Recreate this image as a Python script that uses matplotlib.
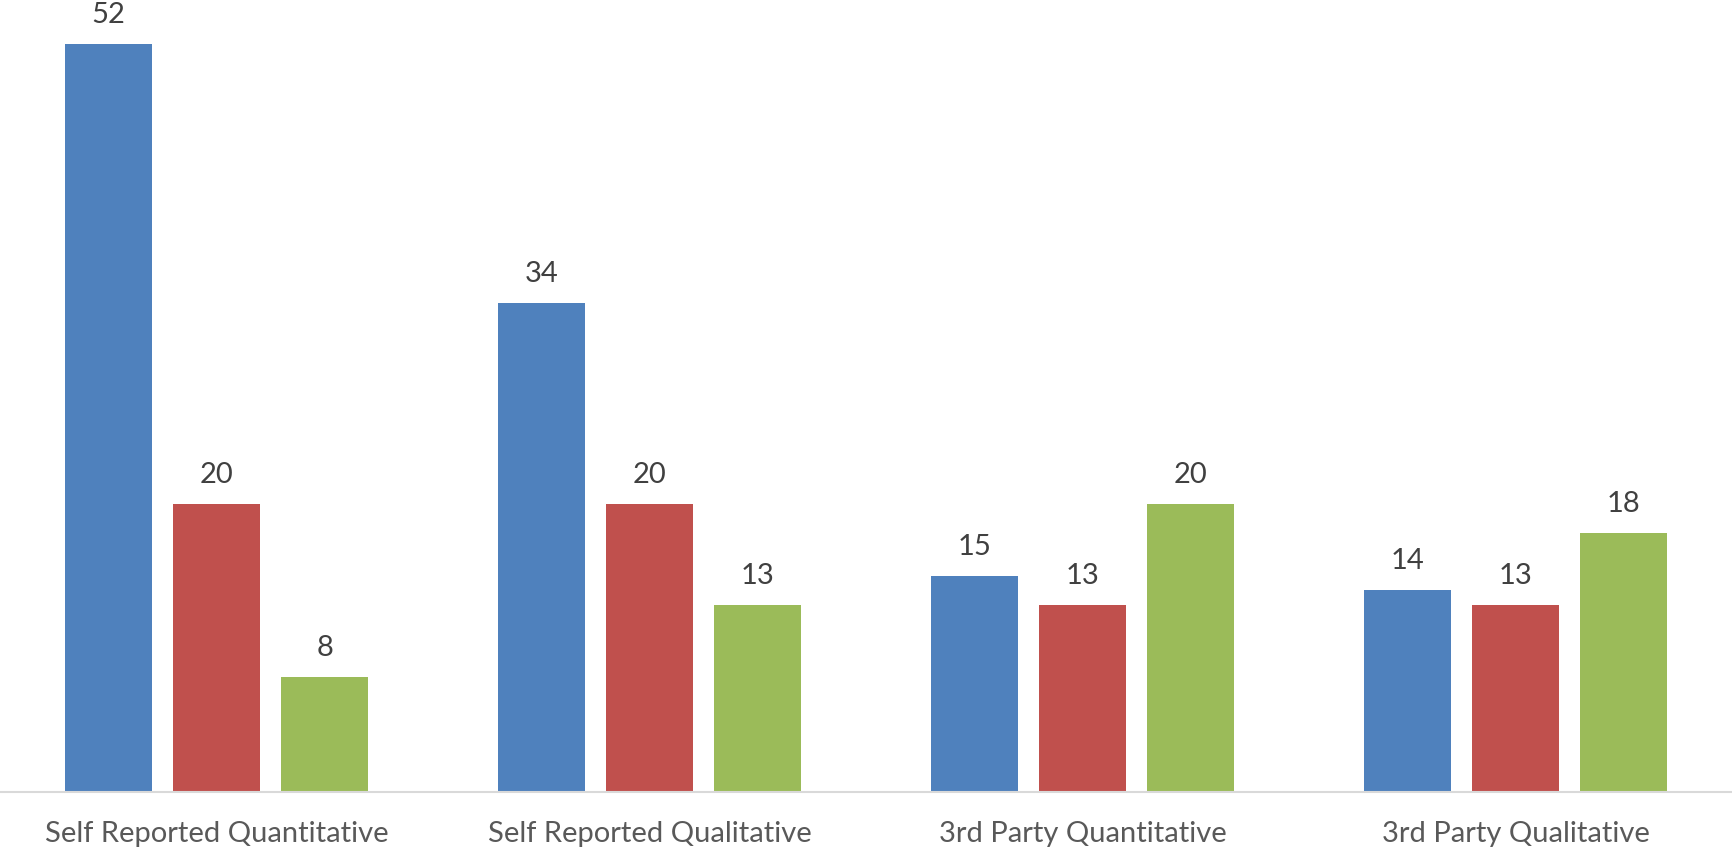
import numpy as np
import matplotlib.pyplot as plt

categories = [
    "Self Reported Quantitative",
    "Self Reported Qualitative",
    "3rd Party Quantitative",
    "3rd Party Qualitative",
]
series_a = [52, 34, 15, 14]
series_b = [20, 20, 13, 13]
series_c = [8, 13, 20, 18]

colors = ["#4F81BD", "#C0504D", "#9BBB59"]
label_color = "#404040"
tick_color = "#595959"
font = "Lato"

fig = plt.figure(figsize=(17.32, 8.51), dpi=100, facecolor="white")
ax = fig.add_axes([0, 0.0699, 1, 0.9301])

x = np.arange(len(categories))
width = 0.2
offset = 0.25

for i, (vals, col) in enumerate(zip([series_a, series_b, series_c], colors)):
    bars = ax.bar(x + (i - 1) * offset, vals, width=width, color=col, zorder=2)
    for bar, v in zip(bars, vals):
        ax.annotate(
            f"{v}",
            xy=(bar.get_x() + bar.get_width() / 2, v),
            xytext=(0, 15),
            textcoords="offset points",
            ha="center",
            va="baseline",
            fontsize=21,
            color=label_color,
            fontname=font,
        )

ax.set_xlim(-0.5, len(categories) - 0.5)
ax.set_ylim(0, 55.06)

for name in ["top", "left", "right"]:
    ax.spines[name].set_visible(False)
ax.spines["bottom"].set_color("#D9D9D9")
ax.spines["bottom"].set_linewidth(1.5)

ax.set_yticks([])
ax.set_xticks(x)
ax.set_xticklabels(categories, fontsize=21, color=tick_color, fontname=font)
ax.tick_params(axis="x", length=0, pad=21)

fig.savefig("out.png", dpi=100, facecolor="white")
